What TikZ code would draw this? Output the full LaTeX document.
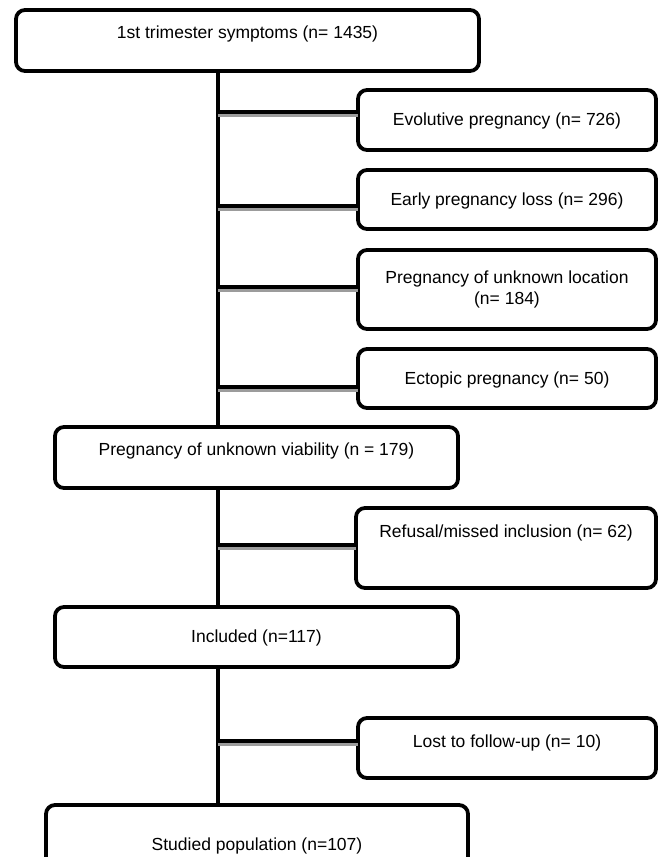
\documentclass[tikz,border=0pt]{standalone}
\usepackage{fontspec}
\setmainfont{Liberation Sans}
\definecolor{shadowgray}{HTML}{9C9C9C}
\begin{document}
\begin{tikzpicture}[x=1pt,y=-1pt,
  box/.style={draw=black, line width=3.8pt, rounded corners=9pt, inner sep=0pt, outer sep=0pt,
              font=\fontsize{17.5}{21}\selectfont},
  tup/.style={text height=11.5pt, text depth=#1},
  trunkline/.style={line width=3.5pt, black},
  branch/.style={line width=3.8pt, black,
                 preaction={draw, line width=2.8pt, shadowgray, transform canvas={yshift=-3.5pt}}}]
\useasboundingbox (0,0) rectangle (660,857);
\fill[white] (0,0) rectangle (660,857);
% main column
\node[box, minimum width=463pt, minimum height=61pt, tup=15pt] (b1) at (247.5,40.5) {1st trimester symptoms (n= 1435)};
\node[box, minimum width=403pt, minimum height=61pt, tup=15pt] (puv) at (256.5,457.5) {Pregnancy of unknown viability (n = 179)};
\node[box, minimum width=403pt, minimum height=60pt, tup=0pt] (inc) at (256.5,637) {Included (n=117)};
\node[box, minimum width=422pt, minimum height=80pt, tup=0pt] (stud) at (257,845) {Studied population (n=107)};
% side boxes
\node[box, minimum width=298pt, minimum height=60pt, tup=0pt] (evo) at (507,120) {Evolutive pregnancy (n= 726)};
\node[box, minimum width=298pt, minimum height=59pt, tup=0pt] (early) at (507,199.5) {Early pregnancy loss (n= 296)};
\node[box, minimum width=298pt, minimum height=79pt, align=center] (pul) at (507,289.5) {Pregnancy of unknown location\\(n= 184)};
\node[box, minimum width=298pt, minimum height=59pt, tup=0pt] (ect) at (507,378.5) {Ectopic pregnancy (n= 50)};
\node[box, minimum width=300pt, minimum height=80pt, tup=32pt] (ref) at (506,548) {Refusal/missed inclusion (n= 62)};
\node[box, minimum width=298pt, minimum height=60pt, tup=12pt] (lost) at (507,748) {Lost to follow-up (n= 10)};
% trunk
\coordinate (t) at (218,0);
\draw[trunkline] (b1.south -| t) -- (puv.north -| t);
\draw[trunkline] (puv.south -| t) -- (inc.north -| t);
\draw[trunkline] (inc.south -| t) -- (stud.north -| t);
% branch points
\coordinate (evoB) at ([yshift=8pt]evo.west);
\coordinate (earlyB) at ([yshift=-6.5pt]early.west);
\coordinate (pulB) at ([yshift=2.5pt]pul.west);
\coordinate (ectB) at ([yshift=-8.5pt]ect.west);
\coordinate (refB) at ([yshift=3pt]ref.west);
\coordinate (lostB) at ([yshift=7pt]lost.west);
\draw[branch] (evoB -| t) -- (evoB);
\draw[branch] (earlyB -| t) -- (earlyB);
\draw[branch] (pulB -| t) -- (pulB);
\draw[branch] (ectB -| t) -- (ectB);
\draw[branch] (refB -| t) -- (refB);
\draw[branch] (lostB -| t) -- (lostB);
\end{tikzpicture}
\end{document}
